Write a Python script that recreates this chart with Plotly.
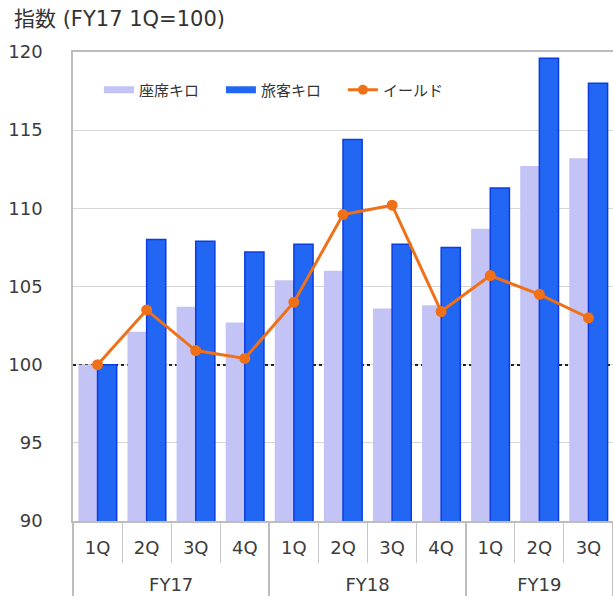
import plotly.graph_objects as go

fiscal_years = ["FY17"] * 4 + ["FY18"] * 4 + ["FY19"] * 3
quarters = ["1Q", "2Q", "3Q", "4Q", "1Q", "2Q", "3Q", "4Q", "1Q", "2Q", "3Q"]

seat_km = [100.0, 102.1, 103.7, 102.7, 105.4, 106.0, 103.6, 103.8, 108.7, 112.7, 113.2]
passenger_km = [100.0, 108.0, 107.9, 107.2, 107.7, 114.4, 107.7, 107.5, 111.3, 119.6, 118.0]
yield_idx = [100.0, 103.5, 100.9, 100.4, 104.0, 109.6, 110.2, 103.4, 105.7, 104.5, 103.0]

y_ticks = [90, 95, 100, 105, 110, 115, 120]
base_line = [100]

LAV = "#c3c3f5"
BLUE = "#2266f4"
ORANGE = "#f07018"
NUM_FONT = "DejaVu Sans, Noto Sans CJK JP"
JP_FONT = "Noto Sans CJK JP, DejaVu Sans"

# second-level labels pushed one line down (display only)
x = [["<br>" + f for f in fiscal_years], quarters]

fig = go.Figure()
fig.add_trace(go.Bar(x=x, y=seat_km, name="座席キロ", marker=dict(color=LAV, line=dict(width=0)),
                     showlegend=False, legendgroup="a"))
fig.add_trace(go.Bar(x=x, y=passenger_km, name="旅客キロ",
                     marker=dict(color=BLUE, line=dict(color="#0c3ce0", width=1.5)),
                     showlegend=False, legendgroup="b"))
fig.add_trace(go.Scatter(x=x, y=yield_idx, name="イールド", mode="lines+markers",
                         line=dict(color=ORANGE, width=3), marker=dict(color=ORANGE, size=11),
                         showlegend=False, legendgroup="c"))

# legend entries (wide swatches like the original), on a hidden overlay subplot
for nm, col, w, md, grp in [("座席キロ", LAV, 7, "lines", "a"),
                            ("旅客キロ", BLUE, 7, "lines", "b"),
                            ("イールド", ORANGE, 3, "lines+markers", "c")]:
    fig.add_trace(go.Scatter(x=[None], y=[None], mode=md, name=nm, xaxis="x2", yaxis="y2",
                             line=dict(color=col, width=w), marker=dict(color=col, size=10),
                             legendgroup=grp))

fig.update_layout(
    width=613, height=601,
    margin=dict(l=73, r=0, t=52, b=80, autoexpand=False),
    paper_bgcolor="white", plot_bgcolor="white",
    barmode="group", bargap=0.22, bargroupgap=0,
    title=dict(text="指数 (FY17 1Q=100)", x=14 / 613, xref="container", xanchor="left",
               y=1 - 19 / 601, yref="container", yanchor="middle",
               font=dict(family=NUM_FONT, size=21, color="#333333")),
    legend=dict(orientation="h", x=0.048, y=0.919, xanchor="left", yanchor="middle",
                bgcolor="rgba(0,0,0,0)", font=dict(family=JP_FONT, size=15, color="#333333"),
                entrywidth=77, entrywidthmode="pixels", itemwidth=30),
    showlegend=True,
    xaxis2=dict(overlaying="x", visible=False, range=[0, 1]),
    yaxis2=dict(overlaying="y", range=[90, 120], tickvals=base_line, showticklabels=False,
                showgrid=True, griddash="dot", gridcolor="#222222", gridwidth=1.5,
                showline=False, zeroline=False, ticks=""),
)

fig.update_layout(yaxis=dict(range=[90, 120], tickvals=y_ticks, showgrid=True, gridcolor="#d6d6d6",
                             gridwidth=1, showline=True, linecolor="#bdbdbd", linewidth=1.5, ticks="",
                             ticklabelstandoff=25, zeroline=False, automargin=False,
                             tickfont=dict(family=NUM_FONT, size=18, color="#3c3c3c")))
fig.update_layout(xaxis=dict(type="multicategory", range=[-0.5, len(quarters) - 0.5],
                             showgrid=False, showline=True, mirror=True,
                             linecolor="#bdbdbd", linewidth=1.5, automargin=False,
                             ticks="outside", ticklen=40, tickcolor="#c8c8c8", tickwidth=1,
                             showdividers=True, dividercolor="#bdbdbd", dividerwidth=1.5,
                             ticklabelstandoff=10,
                             tickfont=dict(family=NUM_FONT, size=18, color="#3c3c3c")))

fig.write_html("out.html", config={"displayModeBar": False},
               post_script="document.body.style.margin='0';document.body.style.overflow='hidden';")
